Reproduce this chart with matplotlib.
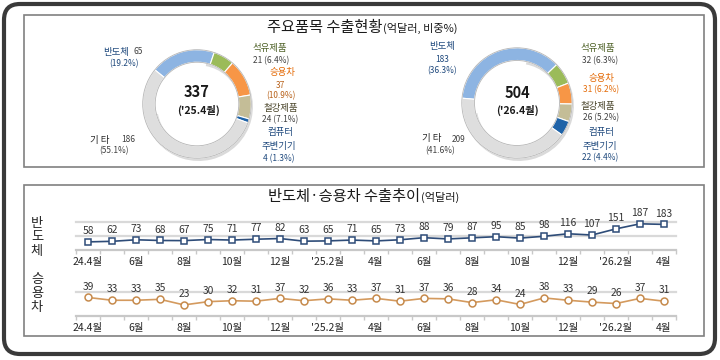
import numpy as np
import matplotlib
matplotlib.use("Agg")
import matplotlib.pyplot as plt
from matplotlib.patches import FancyBboxPatch, Rectangle, Wedge

plt.rcParams['font.family'] = ['Noto Sans CJK KR', 'DejaVu Sans']

# ---------------- data ----------------
pie_items = ['반도체', '석유제품', '승용차', '철강제품', '컴퓨터 주변기기', '기 타']
pie_2504 = [65, 21, 37, 24, 4, 186]
share_2504 = [19.2, 6.4, 10.9, 7.1, 1.3, 55.1]
total_2504 = 337
period_2504 = "('25.4월)"
pie_2604 = [183, 32, 31, 26, 22, 209]
share_2604 = [36.3, 6.3, 6.2, 5.2, 4.4, 41.6]
total_2604 = 504
period_2604 = "('26.4월)"

semi = [58, 62, 73, 68, 67, 75, 71, 77, 82, 63, 65, 71, 65, 73, 88, 79, 87, 95,
        85, 98, 116, 107, 151, 187, 183]
cars = [39, 33, 33, 35, 23, 30, 32, 31, 37, 32, 36, 33, 37, 31, 37, 36, 28, 34,
        24, 38, 33, 29, 26, 37, 31]
tick_labels = ['24.4월', '6월', '8월', '10월', '12월', "'25.2월", '4월', '6월',
               '8월', '10월', '12월', "'26.2월", '4월']

# ---------------- styles ----------------
pie_colors = ['#8DB4E2', '#9BBB59', '#F79646', '#C4BD97', '#1F63A8', '#DEDEDE']
W, H = 720, 360
fig = plt.figure(figsize=(W / 100, H / 100), dpi=100)
bg = fig.add_axes([0, 0, 1, 1])
bg.set_xlim(0, W)
bg.set_ylim(H, 0)
bg.axis('off')

bg.add_patch(FancyBboxPatch((4, 4), 711, 350, boxstyle='round,pad=0,rounding_size=16',
                            lw=3, ec='#3a3a3a', fc='white'))
bg.add_patch(Rectangle((24, 15), 680, 152, fill=False, ec='#808080', lw=1.2))
bg.add_patch(Rectangle((24, 185), 680, 151, fill=False, ec='#808080', lw=1.2))

# titles
bg.text(382, 32, '주요품목 수출현황', ha='right', va='baseline', fontsize=11, color='#1a1a1a')
bg.text(383, 32, '(억달러, 비중%)', ha='left', va='baseline', fontsize=8, color='#1a1a1a')
bg.text(420, 201, '반도체·승용차 수출추이', ha='right', va='baseline', fontsize=11, color='#1a1a1a')
bg.text(421, 201, '(억달러)', ha='left', va='baseline', fontsize=8, color='#1a1a1a')


def donut(cx, cy, r, vals, start):
    ax = fig.add_axes([(cx - 1.15 * r) / W, 1 - (cy + 1.15 * r) / H, 2.3 * r / W, 2.3 * r / H])
    ax.set_xlim(-1.15, 1.15)
    ax.set_ylim(-1.15, 1.15)
    ax.axis('off')
    ax.add_patch(Wedge((0.03, -0.05), 1.0, 190, 80, width=0.24, color='#7a7a7a', alpha=0.28, lw=0))
    ax.pie(vals, colors=pie_colors, startangle=start, counterclock=False, radius=1.0,
           wedgeprops=dict(width=0.23, edgecolor='white', linewidth=0.8))
    ax.add_patch(plt.Circle((0, 0), 1.0, fill=False, ec='#b5b5b5', lw=0.6))
    ax.add_patch(plt.Circle((0, 0), 0.77, fill=False, ec='#b5b5b5', lw=0.6))
    return ax


donut(197, 104, 59, pie_2504, 141)
donut(517, 103, 60, pie_2604, 175)

c_semi = '#1F497D'
c_oil = '#4F6228'
c_car = '#E46C0A'
c_car2 = '#B8621B'
c_steel = '#4A452A'
c_pc = '#1F497D'
c_num = '#404040'
fs_l = 6.8
fs_n = 6.0


def t(x, y, s, c, fs=fs_l, ha='center', w='normal'):
    bg.text(x, y, s, ha=ha, va='center', fontsize=fs, color=c, fontweight=w)


# donut 1 labels
t(103, 52, pie_items[0], c_semi, ha='left')
t(133, 52, f'{pie_2504[0]}', c_num, fs=fs_n, ha='left')
t(124, 64, f'({share_2504[0]}%)', c_semi, fs=fs_n)
t(270, 49, pie_items[1], c_oil)
t(271, 61, f'{pie_2504[1]} ({share_2504[1]}%)', c_num, fs=fs_n)
t(282, 73, pie_items[2], c_car)
t(281, 86, f'{pie_2504[2]}', c_car2, fs=fs_n)
t(281, 96, f'({share_2504[2]}%)', c_car2, fs=fs_n)
t(281, 109, pie_items[3], c_steel)
t(280, 120, f'{pie_2504[3]} ({share_2504[3]}%)', c_num, fs=fs_n)
t(280, 133, pie_items[4].split()[0], c_pc)
t(279, 146, pie_items[4].split()[1], c_pc)
t(279, 159, f'{pie_2504[4]} ({share_2504[4]}%)', c_pc, fs=fs_n)
t(90, 140, pie_items[5], '#262626', ha='left')
t(121, 140, f'{pie_2504[5]}', c_num, fs=fs_n, ha='left')
t(114, 151, f'({share_2504[5]}%)', c_num, fs=fs_n)
t(197, 92, f'{total_2504}', '#1a1a1a', fs=10.5, w='bold')
t(198, 110, period_2504, '#1a1a1a', fs=7.5, w='bold')

# donut 2 labels
t(442, 47, pie_items[0], c_semi)
t(442, 60, f'{pie_2604[0]}', c_semi, fs=fs_n)
t(442, 71, f'({share_2604[0]}%)', c_semi, fs=fs_n)
t(598, 49, pie_items[1], c_oil)
t(600, 61, f'{pie_2604[1]} ({share_2604[1]}%)', c_num, fs=fs_n)
t(601, 78, pie_items[2], c_car)
t(601, 90, f'{pie_2604[2]} ({share_2604[2]}%)', c_car, fs=fs_n)
t(598, 107, pie_items[3], c_steel)
t(601, 118, f'{pie_2604[3]} ({share_2604[3]}%)', c_num, fs=fs_n)
t(601, 133, pie_items[4].split()[0], c_pc)
t(600, 146, pie_items[4].split()[1], c_pc)
t(600, 158, f'{pie_2604[4]} ({share_2604[4]}%)', c_pc, fs=fs_n)
t(422, 139, pie_items[5], '#262626', ha='left')
t(452, 139, f'{pie_2604[5]}', c_num, fs=fs_n, ha='left')
t(440, 151, f'({share_2604[5]}%)', c_num, fs=fs_n)
t(517, 93, f'{total_2604}', '#1a1a1a', fs=10.5, w='bold')
t(517, 110, period_2604, '#1a1a1a', fs=7.5, w='bold')

# vertical row labels
for ch, yy in zip('반도체', [223, 237, 252]):
    t(37, yy, ch, '#262626', fs=9.5, w='medium')
for ch, yy in zip('승용차', [280, 294, 308]):
    t(37, yy, ch, '#262626', fs=9.5, w='medium')


def line_panel(bottom_px, height_px, vals, ymax, grid_vals, color, mec, marker, ms):
    ax = fig.add_axes([76 / W, (H - bottom_px) / H, 600 / W, height_px / H])
    x = np.arange(len(vals))
    for g in grid_vals:
        ax.axhline(g, color='#D9D9D9', lw=1.6, zorder=0, clip_on=False)
    ax.plot(x, vals, color=color, lw=1.2, marker=marker, ms=ms, mfc='white', mec=mec,
            mew=1.1, zorder=3, clip_on=False)
    for xi, v in zip(x, vals):
        ax.annotate(f'{v}', (xi, v), xytext=(0, 4.2), textcoords='offset points',
                    ha='center', va='bottom', fontsize=7.4, color='#333333')
    ax.set_xlim(-0.5, len(vals) - 0.5)
    ax.set_ylim(0, ymax)
    for s in ['top', 'left', 'right']:
        ax.spines[s].set_visible(False)
    ax.spines['bottom'].set_color('#C8C8C8')
    ax.spines['bottom'].set_linewidth(1.6)
    ax.set_yticks([])
    ax.set_xticks(np.arange(0, len(vals), 2))
    ax.set_xticklabels(tick_labels, fontsize=7.5, color='#262626', fontweight='medium')
    ax.set_xticks(np.arange(-0.5, len(vals), 1), minor=True)
    ax.tick_params(axis='x', which='major', length=0, pad=5)
    ax.tick_params(axis='x', which='minor', length=3, color='#C8C8C8', width=1)
    ax.patch.set_alpha(0)
    return ax


line_panel(250, 28, semi, 200, [100, 200], '#2E4C78', '#2E4C78', 's', 5.0)
line_panel(315.7, 23.4, cars, 50, [50], '#D49A5E', '#C68A4C', 'o', 5.0)

fig.savefig('out.png', dpi=100)
